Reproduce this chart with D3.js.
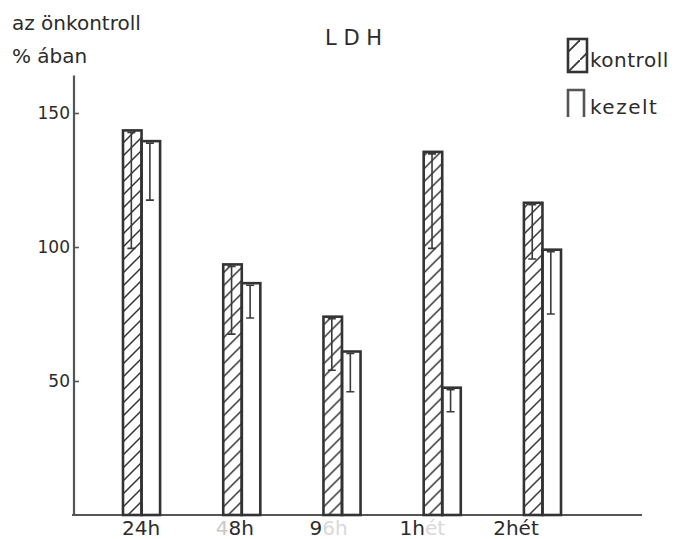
<!DOCTYPE html>
<html>
<head lang="hu">
    <meta charset="UTF-8">
    <title>LDH</title>
    <script src="https://d3js.org/d3.v7.min.js"></script>
</head>
<body style="margin:0;background:#fff">
<svg id="chart" width="678" height="539"></svg>
<style>
    text { font-family: "DejaVu Sans", sans-serif; fill: #2b2b2b; }
    .bar { stroke: #333; stroke-width: 2.6; }
    .err { stroke: #3a3a3a; stroke-width: 1.6; fill: none; }
</style>
<script>
    // data
    const CATEGORIES = ["24h", "48h", "96h", "1hét", "2hét"];
    const KONTROLL = [143.5, 93.5, 74, 135.5, 116.5];
    const KEZELT = [139.5, 86.5, 61, 47.5, 99];
    const KONTROLL_ERR = [44, 26, 20, 36, 21];
    const KEZELT_ERR = [22, 13, 15, 9, 24];
    const Y_TICKS = [50, 100, 150];
    // faded parts of the x labels in the scan
    const LABEL_SOLID = ["24h", "8h", "9", "1h", "2hét"];
    const LABEL_FADED_PRE = ["", "4", "", "", ""];
    const LABEL_FADED_POST = ["", "", "6h", "ét", ""];

    let svg = d3.select('#chart');

    let y = d3.scaleLinear().domain([0, 150]).range([515, 113]);
    let x = d3.scaleBand().domain(CATEGORIES).range([123, 561]).paddingInner(0.63);
    let xInner = d3.scaleBand().domain(['kontroll', 'kezelt']).range([0, x.bandwidth()]);
    let xLabel = d3.scalePoint().domain(CATEGORIES).range([141, 516]);

    // hatch pattern
    let defs = svg.append('defs');
    let pat = defs.append('pattern')
        .attr('id', 'hatch')
        .attr('patternUnits', 'userSpaceOnUse')
        .attr('width', 13).attr('height', 13);
    pat.append('path')
        .attr('d', 'M-2,15 L15,-2 M-2,2 L2,-2 M11,15 L15,11')
        .attr('stroke', '#333').attr('stroke-width', 1.5);

    let lpat = defs.append('pattern')
        .attr('id', 'hatchBig')
        .attr('patternUnits', 'userSpaceOnUse')
        .attr('width', 20).attr('height', 20);
    lpat.append('path')
        .attr('d', 'M0,20 L20,0')
        .attr('stroke', '#333').attr('stroke-width', 1.8);

    // axes
    svg.append('line')
        .attr('x1', 74).attr('x2', 74)
        .attr('y1', y(164)).attr('y2', y(0))
        .attr('stroke', '#555').attr('stroke-width', 2.2);
    svg.append('line')
        .attr('x1', 72).attr('x2', 642)
        .attr('y1', y(0)).attr('y2', y(0))
        .attr('stroke', '#555').attr('stroke-width', 2.2);

    let yAxis = svg.append('g')
        .attr('transform', 'translate(74,0)')
        .call(d3.axisLeft(y).tickValues(Y_TICKS).tickSize(-5).tickPadding(4));
    yAxis.select('.domain').remove();
    yAxis.selectAll('line').attr('stroke', '#555').attr('stroke-width', 1.6);
    yAxis.selectAll('text')
        .style('font-size', '17px')
        .attr('fill', '#333');

    // bars
    let groups = svg.selectAll('.grp')
        .data(CATEGORIES)
        .enter()
        .append('g')
        .attr('class', 'grp')
        .attr('transform', d => `translate(${x(d)},0)`);

    groups.append('rect')
        .attr('class', 'bar')
        .attr('x', xInner('kontroll'))
        .attr('width', xInner.bandwidth())
        .attr('y', (d, i) => y(KONTROLL[i]))
        .attr('height', (d, i) => y(0) - y(KONTROLL[i]))
        .attr('fill', 'url(#hatch)');

    groups.append('rect')
        .attr('class', 'bar')
        .attr('x', xInner('kezelt'))
        .attr('width', xInner.bandwidth())
        .attr('y', (d, i) => y(KEZELT[i]))
        .attr('height', (d, i) => y(0) - y(KEZELT[i]))
        .attr('fill', 'none');

    function errPath(cx, top, bot) {
        return `M${cx - 4},${top} H${cx + 4} M${cx},${top} V${bot} M${cx - 4},${bot} H${cx + 4}`;
    }

    groups.append('path')
        .attr('class', 'err')
        .attr('d', (d, i) => errPath(xInner('kontroll') + xInner.bandwidth() * 0.45,
            y(KONTROLL[i]) + 2, y(KONTROLL[i] - KONTROLL_ERR[i])));

    groups.append('path')
        .attr('class', 'err')
        .attr('d', (d, i) => errPath(xInner('kezelt') + xInner.bandwidth() * 0.45,
            y(KEZELT[i]) + 2, y(KEZELT[i] - KEZELT_ERR[i])));

    // x labels
    let lbl = svg.selectAll('.xl')
        .data(CATEGORIES)
        .enter()
        .append('text')
        .attr('class', 'xl')
        .attr('x', d => xLabel(d))
        .attr('y', 535)
        .attr('text-anchor', 'middle')
        .style('font-size', '20px');
    lbl.append('tspan').attr('fill', '#c8c8c8').text((d, i) => LABEL_FADED_PRE[i]);
    lbl.append('tspan').text((d, i) => LABEL_SOLID[i]);
    lbl.append('tspan').attr('fill', '#d8d8d8').text((d, i) => LABEL_FADED_POST[i]);

    // titles
    svg.append('text').attr('x', 12).attr('y', 30)
        .style('font-size', '20px').text('az önkontroll');
    svg.append('text').attr('x', 12).attr('y', 63)
        .style('font-size', '20px').attr('fill', '#777').text('% ában');
    svg.append('text').attr('x', 325).attr('y', 45)
        .style('font-size', '21px').text('L D H');

    // legend
    svg.append('rect')
        .attr('x', 568).attr('y', 39).attr('width', 19).attr('height', 33)
        .attr('fill', 'url(#hatchBig)')
        .attr('stroke', '#333').attr('stroke-width', 2.6);
    svg.append('text').attr('x', 590).attr('y', 67)
        .style('font-size', '20px').style('letter-spacing', '0.5px').text('kontroll');
    svg.append('path')
        .attr('d', 'M568,117 V90 H584 V117')
        .attr('fill', 'none')
        .attr('stroke', '#555').attr('stroke-width', 2.6);
    svg.append('text').attr('x', 590).attr('y', 114)
        .style('font-size', '20px').style('letter-spacing', '1.5px').text('kezelt');
</script>
</body>
</html>
